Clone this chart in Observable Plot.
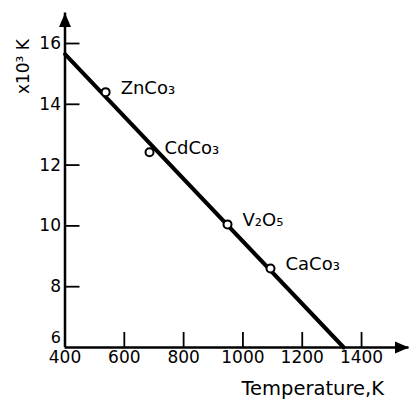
<!DOCTYPE html>
<html><head><meta charset="utf-8">
<script src="https://cdn.jsdelivr.net/npm/d3@7"></script>
<script src="https://cdn.jsdelivr.net/npm/@observablehq/plot@0.6"></script>
<style>body{margin:0;background:#fff} svg{display:block}</style>
</head><body><div id="chart"></div>
<script>
const compounds = ["ZnCo₃", "CdCo₃", "V₂O₅", "CaCo₃"];
const temperatures = [537, 685, 948, 1093];
const values = [14.4, 12.42, 10.05, 8.6];
const fitTemperatures = [400, 1340];
const fitValues = [15.65, 6];
const xTicks = [400, 600, 800, 1000, 1200, 1400];
const yTicks = [6, 8, 10, 12, 14, 16];
const xLabel = "Temperature,K";
const yLabel = "x10³ K";
const xMax = 1560, yMin = 6, xMin = 400, yMax = 17;

const points = compounds.map((c, i) => ({name: c, t: temperatures[i], v: values[i]}));
const fit = fitTemperatures.map((t, i) => ({t, v: fitValues[i]}));
const heads = [{t: xMin, v: yMax, r: 0}, {t: xMax, v: yMin, r: 90}];
const arrowHead = {draw(ctx) { ctx.moveTo(0, 0); ctx.lineTo(-6, 14); ctx.lineTo(6, 14); ctx.closePath(); }};
const fmt = d => String(d);

const chart = Plot.plot({
  width: 410, height: 401,
  marginLeft: 64.5, marginRight: 1.5, marginTop: 12.6, marginBottom: 54,
  style: {fontFamily: "DejaVu Sans", background: "white", color: "black"},
  x: {domain: [xMin, xMax]},
  y: {domain: [yMin, yMax]},
  marks: [
    Plot.axisX({ticks: xTicks, tickFormat: fmt, tickSize: 0, tickPadding: 3, fontSize: 17, label: null}),
    Plot.axisY({ticks: yTicks.filter(d => d > yMin), tickFormat: fmt, tickSize: 0, tickPadding: 4, fontSize: 17, label: null}),
    Plot.axisY({ticks: [yMin], tickFormat: fmt, tickSize: 0, tickPadding: 4, fontSize: 16, label: null, dy: -10}),
    Plot.ruleX(xTicks.filter(d => d > xMin), {x: d => d, y1: yMin, y2: yMin, insetTop: -15, strokeWidth: 1.8}),
    Plot.ruleY(yTicks.filter(d => d > yMin), {y: d => d, x1: xMin, x2: xMin, insetRight: -15, strokeWidth: 1.8}),
    Plot.ruleX([xMin], {y1: yMin, y2: yMax, strokeWidth: 2.5}),
    Plot.ruleY([yMin], {x1: xMin, x2: xMax, strokeWidth: 2.5}),
    Plot.dot(heads, {x: "t", y: "v", rotate: "r", symbol: arrowHead, fill: "black", stroke: "none"}),
    Plot.line(fit, {x: "t", y: "v", strokeWidth: 4}),
    Plot.dot(points, {x: "t", y: "v", r: 4, fill: "white", stroke: "black", strokeWidth: 2}),
    Plot.text(points, {x: "t", y: "v", text: "name", textAnchor: "start", dx: 15, dy: -4, fontSize: 18}),
    Plot.text([yLabel], {frameAnchor: "top-left", text: d => d, rotate: -90, dx: -48, dy: 81, fontSize: 17}),
    Plot.text([xLabel], {frameAnchor: "bottom-right", text: d => d, textAnchor: "end", dx: -25, dy: 47, fontSize: 19.5})
  ]
});
document.getElementById("chart").append(chart);
</script>
</body></html>
